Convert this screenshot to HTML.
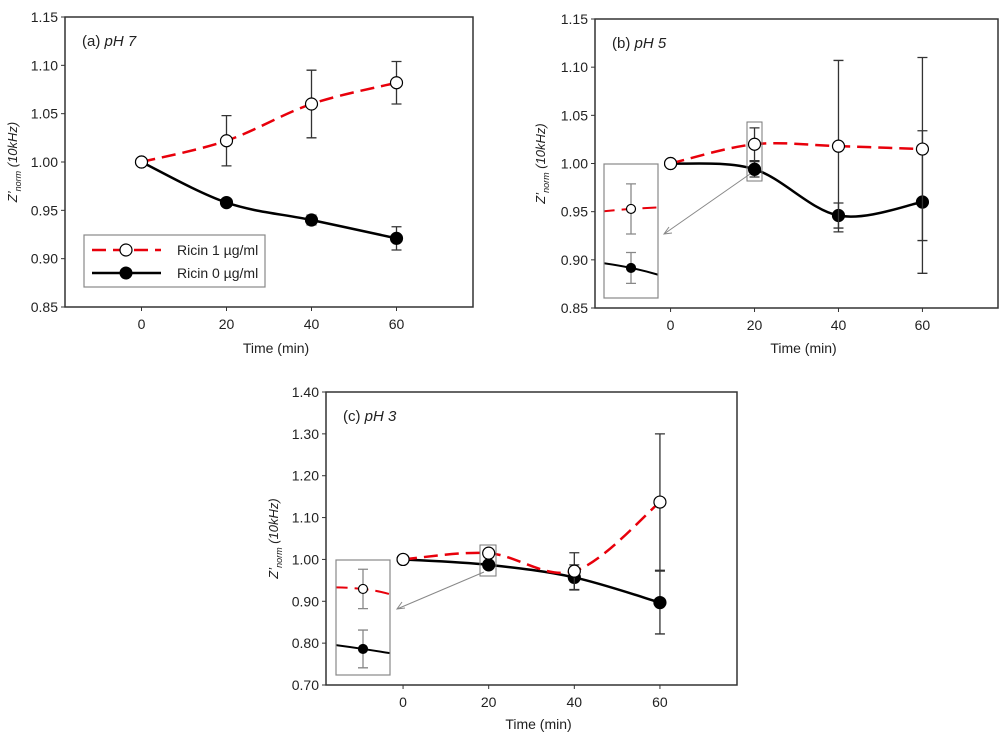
<!DOCTYPE html>
<html><head><meta charset="utf-8"><style>
html,body{margin:0;background:#fff;overflow:hidden;width:1000px;height:734px;}
svg{display:block;font-family:"Liberation Sans",sans-serif;overflow:hidden;}
</style></head><body>
<svg id="chart" width="1000" height="734" viewBox="0 0 1000 734"></svg>
<script>
const times = [0, 20, 40, 60];
const aRed = [1.0, 1.022, 1.060, 1.082];
const aRedErr = [0, 0.026, 0.035, 0.022];
const aBlack = [1.0, 0.958, 0.940, 0.921];
const aBlackErr = [0, 0.002, 0.005, 0.012];
const bRed = [1.0, 1.020, 1.018, 1.015];
const bRedErr = [0, 0.017, 0.089, 0.095];
const bBlack = [1.0, 0.994, 0.946, 0.960];
const bBlackErr = [0, 0.008, 0.013, 0.074];
const cRed = [1.0, 1.015, 0.972, 1.137];
const cRedErr = [0, 0.004, 0.044, 0.163];
const cBlack = [1.0, 0.987, 0.957, 0.897];
const cBlackErr = [0, 0.004, 0.030, 0.075];
const abTicks = ["0.85","0.90","0.95","1.00","1.05","1.10","1.15"];
const cTicks = ["0.70","0.80","0.90","1.00","1.10","1.20","1.30","1.40"];
const xTicks = [0, 20, 40, 60];

const NS="http://www.w3.org/2000/svg";
const svg=document.getElementById('chart');
function mk(tag,attrs,parent){const e=document.createElementNS(NS,tag);for(const k in attrs)e.setAttribute(k,attrs[k]);(parent||svg).appendChild(e);return e;}
function curvePath(pts){
  let d="M"+pts[0][0]+","+pts[0][1];
  for(let i=0;i<pts.length-1;i++){
    const p0=pts[Math.max(i-1,0)],p1=pts[i],p2=pts[i+1],p3=pts[Math.min(i+2,pts.length-1)];
    const c1=[p1[0]+(p2[0]-p0[0])/6,p1[1]+(p2[1]-p0[1])/6];
    const c2=[p2[0]-(p3[0]-p1[0])/6,p2[1]-(p3[1]-p1[1])/6];
    d+=" C"+c1+" "+c2+" "+p2;
  }
  return d;
}
function series(vals,errs,red,MX,MY,r,sw,ecol,parent,ef){
  ef=ef||1;
  const pts=times.map((t,i)=>[MX(t),MY(vals[i])]);
  const p=mk('path',{d:curvePath(pts),fill:'none',stroke:red?'#e8000b':'#000','stroke-width':sw,'stroke-dasharray':red?'14,7':'none'},parent);
  
  
  times.forEach((t,i)=>{
    if(errs[i]>0){const x=MX(t),ya=MY(vals[i]+errs[i]*ef),yb=MY(vals[i]-errs[i]*ef);
      const e=mk('path',{d:`M${x},${ya}V${yb}M${x-5},${ya}H${x+5}M${x-5},${yb}H${x+5}`,stroke:ecol,'stroke-width':1.3,fill:'none'},parent);
      
      }
    const c=mk('circle',{cx:MX(t),cy:MY(vals[i]),r:r,fill:red?'#fff':'#000',stroke:'#000','stroke-width':1.2},parent);
    
    
  });
}
function panel(cfg){
  const g=mk('g',{});
  
  
  const X=v=>cfg.x0+(v-cfg.xmin)/(cfg.xmax-cfg.xmin)*(cfg.x1-cfg.x0);
  const Y=v=>cfg.y1-(v-cfg.ymin)/(cfg.ymax-cfg.ymin)*(cfg.y1-cfg.y0);
  const frame=mk('rect',{x:cfg.x0,y:cfg.y0,width:cfg.x1-cfg.x0,height:cfg.y1-cfg.y0,fill:'none',stroke:'#333','stroke-width':1.5},g);
  
  
  cfg.ticks.forEach(t=>{const v=parseFloat(t);const y=Y(v);
    mk('line',{x1:cfg.x0-4,x2:cfg.x0,y1:y,y2:y,stroke:'#333'},g);
    const tx=mk('text',{x:cfg.x0-7,y:y+5,'text-anchor':'end','font-size':14,fill:'#222'},g);tx.textContent=t;
    
    });
  xTicks.forEach(t=>{const x=X(t);
    mk('line',{x1:x,x2:x,y1:cfg.y1,y2:cfg.y1+4,stroke:'#333'},g);
    const tx=mk('text',{x:x,y:cfg.y1+22,'text-anchor':'middle','font-size':14,fill:'#222'},g);tx.textContent=t;
    
    });
  const xt=mk('text',{x:(cfg.x0+cfg.x1)/2+7,y:cfg.y1+cfg.xTitleOff,'text-anchor':'middle','font-size':14,fill:'#222'},g);xt.textContent='Time (min)';
  
  
  const yt=mk('text',{transform:`translate(${cfg.yTitleX},${(cfg.y0+cfg.y1)/2}) rotate(-90)`,'text-anchor':'middle','font-size':13,fill:'#222'},g);
  yt.innerHTML='<tspan font-style="italic">Z\u2019</tspan><tspan font-style="italic" font-size="9" dy="4">norm</tspan><tspan font-style="italic" dy="-4"> (10kHz)</tspan>';
  
  
  const lb=mk('text',{x:cfg.x0+17,y:cfg.y0+29,'font-size':15,fill:'#222'},g);
  lb.innerHTML='('+cfg.letter+') <tspan font-style="italic">pH '+cfg.ph+'</tspan>';
  
  
  series(cfg.black,cfg.blackErr,false,X,Y,6,2.5,'#333',g);
  series(cfg.red,cfg.redErr,true,X,Y,6,2.5,'#333',g);
  if(cfg.inset){
    const s=cfg.inset, b=s.box;
    const sb=mk('rect',{x:b[0],y:b[1],width:b[2]-b[0],height:b[3]-b[1],fill:'none',stroke:'#777'},g);
    
    
    const id='clip'+cfg.letter;
    const cp=mk('clipPath',{id:id},g);mk('rect',{x:s.ins[0],y:s.ins[1],width:s.ins[2]-s.ins[0],height:s.ins[3]-s.ins[1]},cp);
    mk('rect',{x:s.ins[0],y:s.ins[1],width:s.ins[2]-s.ins[0],height:s.ins[3]-s.ins[1],fill:'#fff'},g);
    const ig=mk('g',{'clip-path':`url(#${id})`},g);
    
    
    const cx=(s.ins[0]+s.ins[2])/2;
    const MX=t=>cx+(t-20)*15;
    const MY=v=>s.ins[1]+(s.vTop-v)*s.ppu;
    series(cfg.black,cfg.blackErr,false,MX,MY,4.5,2,'#888',ig,s.bf);
    series(cfg.red,cfg.redErr,true,MX,MY,4.5,2,'#888',ig,s.rf);
    const ir=mk('rect',{x:s.ins[0],y:s.ins[1],width:s.ins[2]-s.ins[0],height:s.ins[3]-s.ins[1],fill:'none',stroke:'#888','stroke-width':1.2},g);
    
    
    const a=s.arrow;
    const ar=mk('path',{d:`M${a[0]},${a[1]}L${a[2]},${a[3]}M${a[2]+8},${a[3]-1}L${a[2]},${a[3]}L${a[2]+5},${a[3]-7}`,stroke:'#888',fill:'none'},g);
    
    
  }
}
panel({name:'panel-a-ph7',letter:'a',ph:7,x0:65,x1:473,y0:17,y1:307,xmin:-18,xmax:78,ymin:0.85,ymax:1.15,ticks:abTicks,yTitleX:17,xTitleOff:46,red:aRed,redErr:aRedErr,black:aBlack,blackErr:aBlackErr});
panel({name:'panel-b-ph5',letter:'b',ph:5,x0:595,x1:998,y0:19,y1:308,xmin:-18,xmax:78,ymin:0.85,ymax:1.15,ticks:abTicks,yTitleX:545,xTitleOff:45,red:bRed,redErr:bRedErr,black:bBlack,blackErr:bBlackErr,
  inset:{box:[747,122,762,181],ins:[604,164,658,298],vTop:1.0398,ppu:2269,rf:0.65,bf:0.85,arrow:[750,174,664,234]}});
panel({name:'panel-c-ph3',letter:'c',ph:3,x0:326,x1:737,y0:392,y1:685,xmin:-18,xmax:78,ymin:0.70,ymax:1.40,ticks:cTicks,yTitleX:278,xTitleOff:44,red:cRed,redErr:cRedErr,black:cBlack,blackErr:cBlackErr,
  inset:{box:[480,545,496,576],ins:[336,560,390,675],vTop:1.0285,ppu:2143,rf:2.3,bf:2.2,arrow:[484,572,397,609]}});
const lg=mk('g',{});


mk('rect',{x:84,y:235,width:181,height:52,fill:'#fff',stroke:'#888','stroke-width':1.2},lg);
const e1=mk('g',{},lg);


mk('line',{x1:92,x2:161,y1:250,y2:250,stroke:'#e8000b','stroke-width':2.5,'stroke-dasharray':'14,7'},e1);
mk('circle',{cx:126,cy:250,r:6,fill:'#fff',stroke:'#000','stroke-width':1.2},e1);
const t1=mk('text',{x:177,y:255,'font-size':14,fill:'#222'},e1);t1.textContent='Ricin 1 \u00b5g/ml';
const e2=mk('g',{},lg);


mk('line',{x1:92,x2:161,y1:273,y2:273,stroke:'#000','stroke-width':2.5},e2);
mk('circle',{cx:126,cy:273,r:6,fill:'#000',stroke:'#000'},e2);
const t2=mk('text',{x:177,y:278,'font-size':14,fill:'#222'},e2);t2.textContent='Ricin 0 \u00b5g/ml';
</script>
</body></html>
